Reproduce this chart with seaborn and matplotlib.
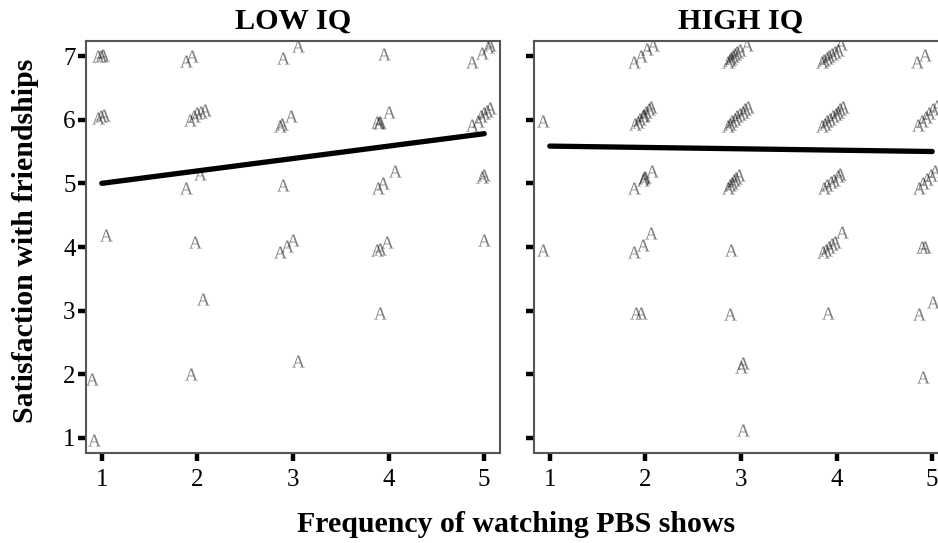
import numpy as np
import pandas as pd
import matplotlib
matplotlib.use("Agg")
import matplotlib.pyplot as plt
import seaborn as sns

# jittered responses, LOW IQ panel
low_x = [0.96, 0.99, 1.01, 1.88, 1.94, 2.90, 3.05, 3.95, 4.87, 4.98, 5.04, 5.06,
         0.96, 0.99, 1.02, 1.92, 1.96, 2.00, 2.04, 2.08, 2.86, 2.89, 2.98,
         3.88, 3.90, 3.91, 4.00, 4.87, 4.93, 4.97, 5.00, 5.03, 5.06,
         1.88, 2.03, 2.90, 3.89, 3.94, 4.07, 4.98, 5.00,
         1.04, 1.98, 2.86, 2.94, 3.00, 3.88, 3.91, 3.98, 5.00,
         2.06, 3.91, 0.90, 1.93, 3.05, 0.92]
low_y = [7.00, 7.00, 7.01, 6.92, 7.00, 6.97, 7.16, 7.03, 6.91, 7.05, 7.14, 7.17,
         6.03, 6.05, 6.07, 5.99, 6.05, 6.10, 6.12, 6.15, 5.90, 5.93, 6.05,
         5.96, 5.95, 5.97, 6.12, 5.91, 5.98, 6.05, 6.10, 6.14, 6.18,
         4.93, 5.15, 4.97, 4.93, 5.01, 5.20, 5.10, 5.13,
         4.19, 4.08, 3.92, 4.02, 4.11, 3.95, 3.97, 4.08, 4.11,
         3.19, 2.97, 1.93, 2.01, 2.21, 0.97]

# jittered responses, HIGH IQ panel
high_x = [1.88, 1.95, 2.02, 2.08,
          2.86, 2.88, 2.90, 2.92, 2.94, 2.96, 2.99, 3.06,
          3.85, 3.87, 3.90, 3.92, 3.95, 3.98, 4.01, 4.05,
          4.84, 4.92,
          0.93,
          1.89, 1.92, 1.94, 1.97, 1.99, 2.01, 2.04, 2.06,
          2.86, 2.89, 2.91, 2.94, 2.96, 2.99, 3.02, 3.04, 3.07,
          3.85, 3.88, 3.90, 3.93, 3.96, 3.99, 4.01, 4.04, 4.07,
          4.85, 4.89, 4.93, 4.97, 5.01, 5.05,
          1.88, 1.97, 1.99, 2.00, 2.07,
          2.86, 2.88, 2.91, 2.93, 2.95, 2.98,
          3.87, 3.90, 3.94, 3.97, 4.01, 4.04,
          4.86, 4.90, 4.95, 4.99, 5.03,
          0.93, 1.88, 1.97, 2.06, 2.90,
          3.86, 3.89, 3.92, 3.95, 3.98, 4.06,
          4.89, 4.92,
          1.90, 1.95, 2.88, 3.91, 4.86, 5.01,
          3.00, 3.02, 4.90, 3.02]
high_y = [6.91, 7.00, 7.11, 7.17,
          6.91, 6.94, 6.97, 7.00, 7.03, 7.06, 7.10, 7.17,
          6.91, 6.94, 6.97, 7.00, 7.03, 7.07, 7.10, 7.19,
          6.91, 7.02,
          5.98,
          5.93, 5.97, 6.01, 6.05, 6.08, 6.12, 6.16, 6.20,
          5.90, 5.94, 5.98, 6.01, 6.05, 6.09, 6.12, 6.16, 6.20,
          5.90, 5.94, 5.98, 6.01, 6.05, 6.09, 6.12, 6.16, 6.20,
          5.92, 5.98, 6.04, 6.10, 6.16, 6.22,
          4.93, 5.05, 5.08, 5.10, 5.20,
          4.93, 4.97, 5.01, 5.05, 5.09, 5.13,
          4.93, 4.97, 5.02, 5.06, 5.11, 5.15,
          4.93, 5.00, 5.07, 5.13, 5.20,
          3.95, 3.92, 4.03, 4.22, 3.95,
          3.92, 3.96, 4.00, 4.04, 4.08, 4.23,
          4.00, 4.00,
          2.97, 2.97, 2.95, 2.97, 2.95, 3.14,
          2.12, 2.17, 1.96, 1.13]

# fitted lines (endpoints at x = 1 and x = 5)
fit_x = [1, 5]
low_fit = [5.00, 5.78]
high_fit = [5.585, 5.50]

panels = ["LOW IQ", "HIGH IQ"]
x_ticks = [1, 2, 3, 4, 5]
y_ticks = [1, 2, 3, 4, 5, 6, 7]

sns.set_style("white")
plt.rcParams["font.family"] = ["Liberation Serif", "DejaVu Serif"]
plt.rcParams["mathtext.fontset"] = "custom"
plt.rcParams["mathtext.rm"] = "Liberation Serif"
plt.rcParams["text.color"] = "black"

pts = pd.concat([
    pd.DataFrame({"x": low_x, "y": low_y, "iq": panels[0]}),
    pd.DataFrame({"x": high_x, "y": high_y, "iq": panels[1]}),
])
fits = pd.concat([
    pd.DataFrame({"x": fit_x, "y": low_fit, "iq": panels[0]}),
    pd.DataFrame({"x": fit_x, "y": high_fit, "iq": panels[1]}),
])

fig = plt.figure(figsize=(9.38, 5.43), dpi=100)
ax_l = fig.add_axes([86 / 938, 90 / 543, 414 / 938, 412 / 543])
ax_r = fig.add_axes([534 / 938, 90 / 543, 414 / 938, 412 / 543])

for ax, name in zip([ax_l, ax_r], panels):
    d = pts[pts["iq"] == name]
    sns.scatterplot(data=d, x="x", y="y", ax=ax, marker=r"$\mathrm{A}$",
                    s=85, color="black", alpha=0.5, linewidth=0, legend=False)
    f = fits[fits["iq"] == name]
    sns.lineplot(data=f, x="x", y="y", ax=ax, color="black", linewidth=3.8,
                 solid_capstyle="round", legend=False)
    ax.set_xlim(0.835, 5.165)
    ax.set_ylim(0.764, 7.236)
    ax.set_xticks(x_ticks)
    ax.set_yticks(y_ticks)
    ax.set_xlabel("")
    ax.set_ylabel("")
    ax.set_title(name, fontsize=21.8, fontweight="bold", pad=9, color="black")
    ax.tick_params(axis="both", direction="out", length=5.5, width=3.2,
                   color="black", labelsize=18, labelcolor="black",
                   bottom=True, left=True)
    ax.tick_params(axis="x", pad=6)
    ax.tick_params(axis="y", pad=2)
    for sp in ax.spines.values():
        sp.set_color("#555555")
        sp.set_linewidth(1.5)

ax_r.tick_params(axis="y", labelleft=False)

fig.text(26 / 938, 1 - 241 / 543, "Satisfaction with friendships", rotation=90,
         ha="center", va="center", fontsize=21.5, fontweight="bold")
fig.text(516 / 938, 1 - 525 / 543, "Frequency of watching PBS shows",
         ha="center", va="center", fontsize=21.5, fontweight="bold")

fig.savefig("out.png", dpi=100)
